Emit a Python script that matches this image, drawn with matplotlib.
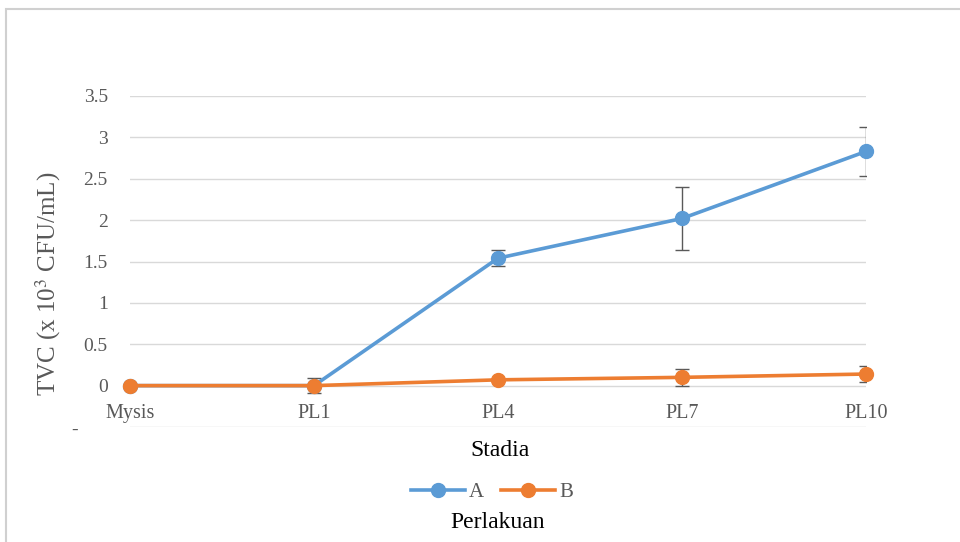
import matplotlib
matplotlib.use("Agg")
import matplotlib.pyplot as plt
from matplotlib.patches import Rectangle
from matplotlib.lines import Line2D

categories = ["Mysis", "PL1", "PL4", "PL7", "PL10"]
series_a = [0.0, 0.0, 1.54, 2.02, 2.83]
err_a = [0.0, 0.09, 0.1, 0.38, 0.3]
series_b = [0.0, 0.0, 0.07, 0.10, 0.14]
err_b = [0.0, 0.0, 0.0, 0.1, 0.1]
ytick_vals = [-0.5, 0, 0.5, 1, 1.5, 2, 2.5, 3, 3.5]
ytick_labels = ["-      ", "0", "0.5", "1", "1.5", "2", "2.5", "3", "3.5"]

blue = "#5B9BD5"
orange = "#ED7D31"
gray = "#595959"
grid = "#D9D9D9"
serif = ["Liberation Serif", "DejaVu Serif"]

W, H = 960, 542
fig = plt.figure(figsize=(W / 100, H / 100), dpi=100)

# frame
fig.patches.append(Rectangle((6 / W, -0.1), 1.0, 1.1 - 9 / H, transform=fig.transFigure,
                             fill=False, edgecolor="#D0D0D0", linewidth=1.5))

left, right = 130 / W, 866 / W
bottom, top = (H - 427) / H, (H - 96) / H
ax = fig.add_axes([left, bottom, right - left, top - bottom])
x = list(range(len(categories)))

ax.set_xlim(0, len(categories) - 1)
ax.set_ylim(-0.5, 3.5)
for s in ax.spines.values():
    s.set_visible(False)
ax.set_yticks(ytick_vals)
ax.set_yticklabels(ytick_labels, fontfamily=serif, fontsize=14, color=gray)
ax.tick_params(axis="y", length=0, pad=16)
ax.set_xticks([])
ax.yaxis.grid(True, color=grid, linewidth=1)
ax.set_axisbelow(True)

ax.errorbar(x, series_a, yerr=err_a, fmt="none", ecolor=gray, elinewidth=1,
            capsize=5, capthick=1, zorder=3)
ax.plot(x, series_a, color=blue, linewidth=2.6, marker="o", markersize=10, zorder=4,
        solid_capstyle="round", clip_on=False)
ax.errorbar(x, series_b, yerr=err_b, fmt="none", ecolor=gray, elinewidth=1,
            capsize=5, capthick=1, zorder=5)
ax.plot(x, series_b, color=orange, linewidth=2.6, marker="o", markersize=10, zorder=6,
        solid_capstyle="round", clip_on=False)

for xi, lab in zip(x, categories):
    ax.text(xi, -0.34, lab, ha="center", va="center", fontfamily=serif, fontsize=14.5,
            color=gray)

fig.text(48 / W, 1 - 284 / H, r"TVC (x 10$^{3}$ CFU/mL)", rotation=90, ha="center",
         va="center", fontfamily=serif, fontsize=18, color=gray,
         math_fontfamily="stix")
fig.text(500 / W, 1 - 451 / H, "Stadia", ha="center", va="center", fontfamily=serif,
         fontsize=17, color="#000000")
fig.text(498 / W, 1 - 522 / H, "Perlakuan", ha="center", va="center", fontfamily=serif,
         fontsize=17, color="#000000")

handles = [Line2D([0], [0], color=blue, lw=2.6, marker="o", markersize=10),
           Line2D([0], [0], color=orange, lw=2.6, marker="o", markersize=10)]
fig.legend(handles, ["A", "B"], loc="center", bbox_to_anchor=(492 / W, 1 - 492 / H),
           ncol=2, frameon=False, prop={"family": serif, "size": 15}, labelcolor=gray,
           handlelength=2.6, handletextpad=0.2, columnspacing=0.8)

fig.savefig("out.png", dpi=100)
